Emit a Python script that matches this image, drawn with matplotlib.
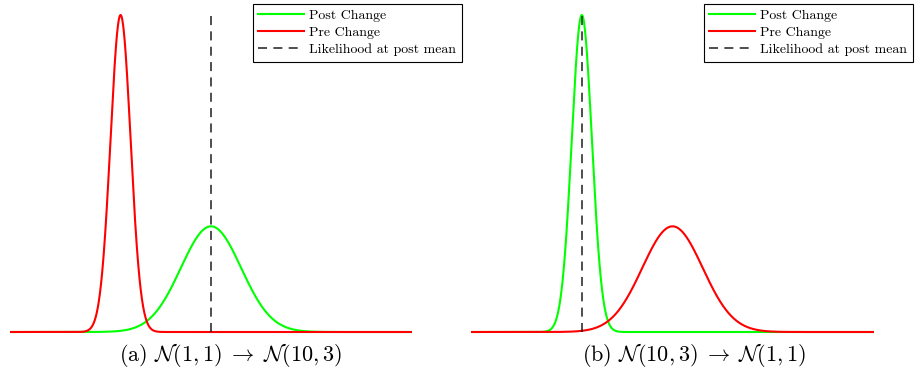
import numpy as np
import matplotlib
matplotlib.use("Agg")
import matplotlib.pyplot as plt

plt.rcParams['font.family'] = 'serif'
plt.rcParams['font.serif'] = ['cmr10']
plt.rcParams['mathtext.fontset'] = 'cm'
plt.rcParams['axes.formatter.use_mathtext'] = True

# x grid and the two gaussians per panel: (mean, std)
x_range = (-10, 30)
panels = [
    {"pre": (1, 1), "post": (10, 3), "caption": r"(a) $\mathcal{N}(1,1)\;\rightarrow\;\mathcal{N}(10,3)$"},
    {"pre": (10, 3), "post": (1, 1), "caption": r"(b) $\mathcal{N}(10,3)\;\rightarrow\;\mathcal{N}(1,1)$"},
]


def pdf(x, mu, sd):
    return np.exp(-0.5 * ((x - mu) / sd) ** 2) / (sd * np.sqrt(2 * np.pi))


W, H = 917, 379
fig = plt.figure(figsize=(W / 100, H / 100), dpi=100)

# pixel layout: (left px, right px) of the data range, legend right edge, caption centre
px_cols = [(10, 412, 462, 231), (471, 874, 913, 694)]
base_px, top_px = 332, 15
peak = pdf(0, 0, 1)
ppu = (base_px - top_px) / peak  # pixels per y unit

x = np.linspace(x_range[0], x_range[1], 2000)
for p, (l, r, leg_r, cap_x) in zip(panels, px_cols):
    bottom_px = base_px + 8
    ax = fig.add_axes([l / W, 1 - bottom_px / H, (r - l) / W, bottom_px / H])
    ax.set_xlim(*x_range)
    ax.set_ylim(-(bottom_px - base_px) / ppu, base_px / ppu)
    ax.axis('off')

    ax.plot(x, pdf(x, *p["post"]), color='#00ff00', lw=1.5, label='Post Change')
    ax.plot(x, pdf(x, *p["pre"]), color='red', lw=1.5, label='Pre Change')
    mu = p["post"][0]
    ax.vlines(mu, 0, peak, colors='k', linestyles=[(0, (5, 3.5))], lw=1.3, alpha=0.75,
              label='Likelihood at post mean')

    leg = ax.legend(loc='upper right', bbox_to_anchor=(leg_r / W, 1 - 4 / H),
                    bbox_transform=fig.transFigure, fontsize=10, frameon=True,
                    fancybox=False, framealpha=1, edgecolor='k', borderaxespad=0,
                    handlelength=3.3, handletextpad=0.4, labelspacing=0.3,
                    borderpad=0.4)
    leg.get_frame().set_linewidth(0.8)

    fig.text(cap_x / W, 1 - 355 / H, p["caption"], ha='center', va='center', fontsize=16)

fig.savefig('out.png', dpi=100)
